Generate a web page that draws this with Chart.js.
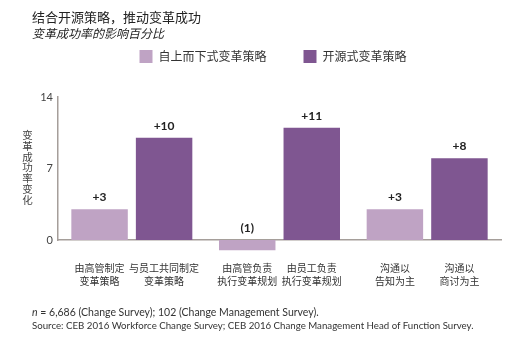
<!DOCTYPE html>
<html>
<head>
<meta charset="utf-8">
<script src="https://cdn.jsdelivr.net/npm/chart.js@4"></script>
<style>
  body { margin: 0; background: #fff; }
  #wrap { position: relative; width: 527px; height: 340px; overflow: hidden; }
  #wrap canvas { position: absolute; left: 0; top: 0; }
  .txt { position: absolute; white-space: nowrap; color: #222; }
  #title { left: 32px; top: 7px; font: 13px "Noto Sans CJK SC", sans-serif; }
  #subtitle { left: 32px; top: 24px; font: italic 12px "Noto Sans CJK SC", sans-serif; }
  #note1 { left: 32px; top: 306px; font: 10.5px Lato, sans-serif; color: #333; }
  #note2 { left: 32px; top: 319px; font: 9.7px Lato, sans-serif; color: #333; }
</style>
</head>
<body>
<div id="wrap">
  <canvas id="chart" width="527" height="340"></canvas>
  <div class="txt" id="title">结合开源策略，推动变革成功</div>
  <div class="txt" id="subtitle">变革成功率的影响百分比</div>
  <div class="txt" id="note1"><i>n</i> = 6,686 (Change Survey); 102 (Change Management Survey).</div>
  <div class="txt" id="note2">Source: CEB 2016 Workforce Change Survey; CEB 2016 Change Management Head of Function Survey.</div>
</div>
<script>
// chart data
const groups = ['策略制定', '规划执行', '沟通方式'];
const seriesNames = ['自上而下式变革策略', '开源式变革策略'];
const topDownValues = [3, -1, 3];
const openValues = [10, 11, 8];
const topDownLabels = [['由高管制定', '变革策略'], ['由高管负责', '执行变革规划'], ['沟通以', '告知为主']];
const openLabels = [['与员工共同制定', '变革策略'], ['由员工负责', '执行变革规划'], ['沟通以', '商讨为主']];
const yTicks = [0, 7, 14];
const yTitle = '变革成功率变化';

const lightPurple = '#bfa3c4';
const darkPurple = '#7f5691';
const axisGray = '#a59e9a';
const cjk = '"Noto Sans CJK SC", sans-serif';

// function to format the value above each bar
function formatValue(v) {
    return v < 0 ? '(' + (-v) + ')' : '+' + v;
}

// plugin: value labels, category labels under bars, vertical axis title
const annotate = {
    id: 'annotate',
    beforeInit(chart) {
        const fit = chart.legend.fit;
        chart.legend.fit = function () {
            fit.bind(chart.legend)();
            this.height = 84;
        };
    },
    afterLayout(chart) {
        // nudge the legend to the right like the original
        chart.legend.left += 9;
        chart.legend.right += 9;
    },
    afterDatasetsDraw(chart) {
        const ctx = chart.ctx;
        const y = chart.scales.y;
        const zero = y.getPixelForValue(0);
        const labelSets = [topDownLabels, openLabels];
        ctx.save();
        chart.data.datasets.forEach((ds, di) => {
            const meta = chart.getDatasetMeta(di);
            meta.data.forEach((bar, i) => {
                const v = ds.data[i];
                const top = v >= 0 ? bar.y : zero;
                ctx.fillStyle = '#222';
                ctx.font = 'bold 12px Lato, sans-serif';
                ctx.textAlign = 'center';
                ctx.textBaseline = 'bottom';
                ctx.fillText(formatValue(v), bar.x, top - 6);

                ctx.font = '10px ' + cjk;
                ctx.fillStyle = '#333';
                ctx.textBaseline = 'middle';
                labelSets[di][i].forEach((line, li) => {
                    ctx.fillText(line, bar.x, 268.5 + li * 12.5);
                });
            });
        });
        ctx.font = '10.5px ' + cjk;
        ctx.fillStyle = '#444';
        ctx.textAlign = 'center';
        ctx.textBaseline = 'middle';
        Array.from(yTitle).forEach((ch, i) => {
            ctx.fillText(ch, 27.5, 135 + i * 10.8);
        });
        ctx.restore();
    }
};

new Chart(document.getElementById('chart'), {
    type: 'bar',
    data: {
        labels: groups,
        datasets: [
            { label: seriesNames[0], data: topDownValues, backgroundColor: lightPurple, clip: false },
            { label: seriesNames[1], data: openValues, backgroundColor: darkPurple, clip: false }
        ]
    },
    options: {
        responsive: false,
        animation: false,
        categoryPercentage: 0.874,
        barPercentage: 0.875,
        layout: { padding: { left: 27, right: 26, top: 13, bottom: 0 } },
        plugins: {
            legend: {
                labels: {
                    boxWidth: 13,
                    boxHeight: 13,
                    padding: 37,
                    color: '#333',
                    font: { size: 12, family: cjk }
                }
            },
            tooltip: { enabled: false }
        },
        scales: {
            x: {
                grid: { display: false },
                border: { display: true, color: axisGray, width: 1.5 },
                ticks: { display: false },
                afterFit(scale) { scale.height = 100; }
            },
            y: {
                min: 0,
                max: 14,
                grid: { display: false, drawTicks: false },
                border: { display: true, color: axisGray, width: 1.5 },
                afterBuildTicks(scale) { scale.ticks = yTicks.map(v => ({ value: v })); },
                ticks: {
                    padding: 5,
                    color: '#444',
                    font: { size: 11, family: 'Lato, sans-serif' }
                },
                afterFit(scale) { scale.width = 31; }
            }
        }
    },
    plugins: [annotate]
});
</script>
</body>
</html>
